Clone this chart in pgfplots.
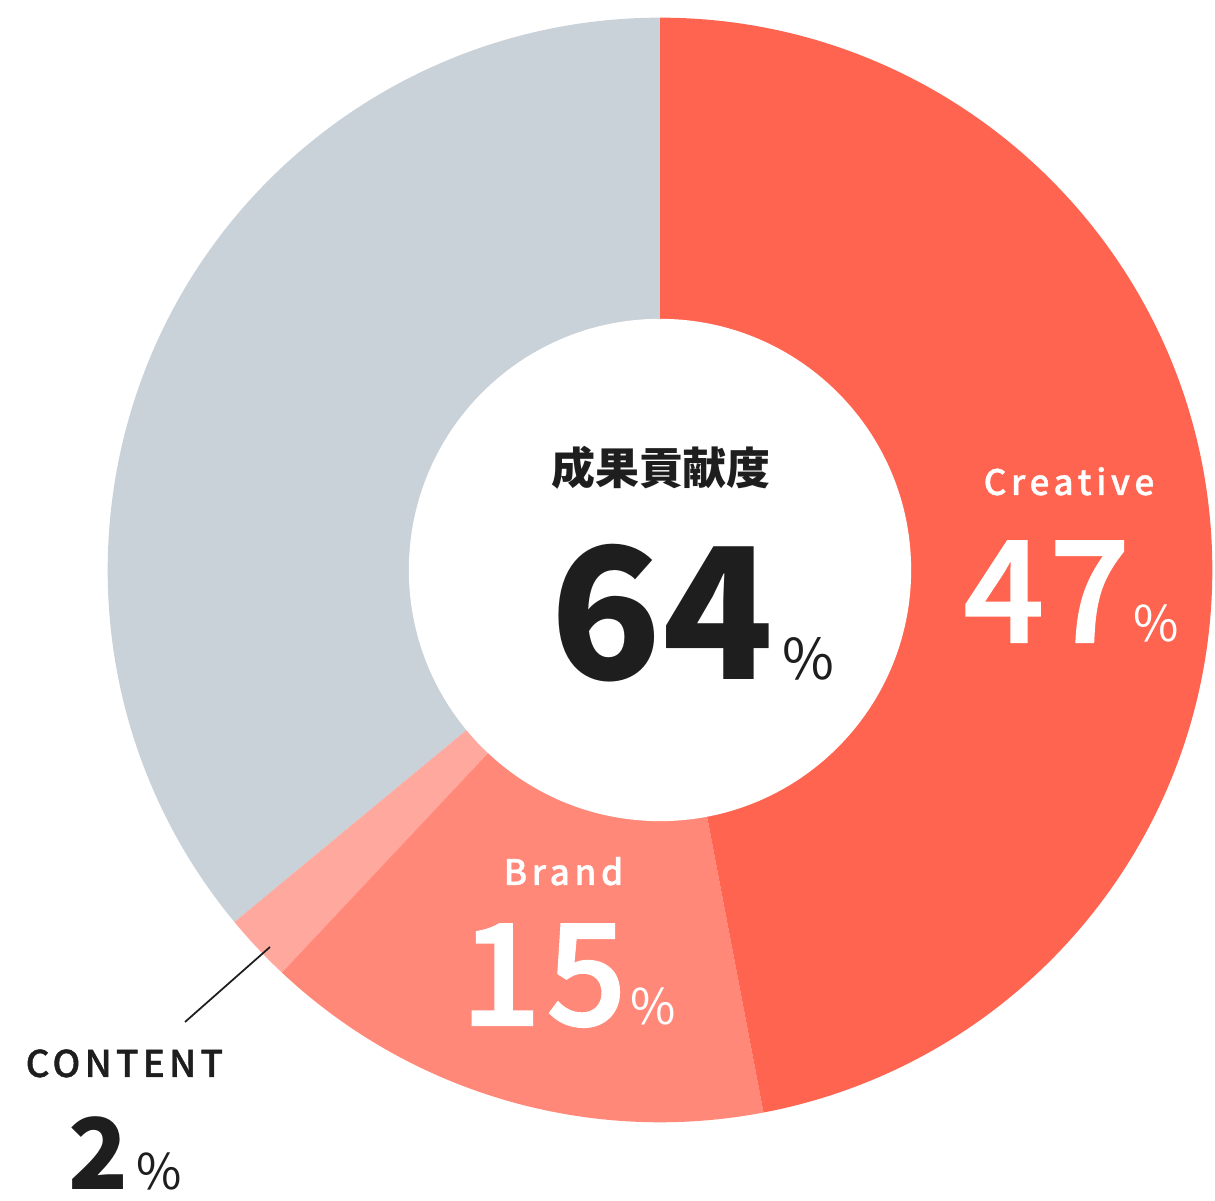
\documentclass[border=0pt]{standalone}
\usepackage{pgfplots}
\pgfplotsset{compat=1.18}
\usepackage{pgfplotstable}
\usepackage{fontspec}
\setmainfont{Noto Sans CJK JP}
\newfontfamily\medfont{Noto Sans CJK JP Medium}[RawFeature={embolden=1.6}]
\newfontfamily\medspaced{Noto Sans CJK JP Medium}[LetterSpace=13,RawFeature={embolden=1}]
\newfontfamily\medspacedb{Noto Sans CJK JP Medium}[LetterSpace=11.5,RawFeature={embolden=1}]
\definecolor{cCreative}{RGB}{255,100,80}
\definecolor{cBrand}{RGB}{255,136,120}
\definecolor{cContent}{RGB}{255,168,158}
\definecolor{cOther}{RGB}{201,209,217}
\definecolor{cText}{RGB}{30,30,30}

\pgfplotstableread{
label value
Creative 47
Brand 15
Content 2
Other 36
}\donutdata

\newcommand\slice[3]{%
  \fill[#3] (axis cs:660,631) -- ++(#1:5.52cm) arc[start angle=#1, end angle=#2, radius=5.52cm] -- cycle;}

\begin{document}
\begin{tikzpicture}
\pgfplotstablegetelem{0}{value}\of\donutdata \let\vA\pgfplotsretval
\pgfplotstablegetelem{1}{value}\of\donutdata \let\vB\pgfplotsretval
\pgfplotstablegetelem{2}{value}\of\donutdata \let\vC\pgfplotsretval
\pgfplotstablegetelem{3}{value}\of\donutdata \let\vD\pgfplotsretval
\pgfmathsetmacro\aA{90}
\pgfmathsetmacro\aB{\aA-3.6*\vA}
\pgfmathsetmacro\aC{\aB-3.6*\vB}
\pgfmathsetmacro\aD{\aC-3.6*\vC}
\pgfmathsetmacro\aE{\aD-3.6*\vD}
\begin{axis}[
  x=0.01cm, y=0.01cm,
  xmin=0, xmax=1215, ymin=0, ymax=1201,
  hide axis, clip=false,
]
\path (axis cs:0,0) rectangle (axis cs:1215,1201);
\slice{\aD}{\aE}{cOther}
\slice{\aC}{\aD}{cContent}
\slice{\aB}{\aC}{cBrand}
\slice{\aA}{\aB}{cCreative}
\fill[white] (axis cs:660,631) circle[radius=2.51cm];
% center labels
\node[anchor=base, text=cText, font=\bfseries\fontsize{12.5}{14}\selectfont, inner sep=0pt] at (axis cs:661,716) {成果貢献度};
\node[anchor=base west, text=cText, inner sep=0pt] at (axis cs:550,521) {\fontsize{52}{56}\selectfont\bfseries 64\fontsize{16}{18}\selectfont\mdseries\,\%};
% Creative
\node[anchor=base west, text=white, inner sep=0pt, font=\medspaced\fontsize{10}{11}\selectfont] at (axis cs:983,706) {Creative};
\node[anchor=base west, text=white, inner sep=0pt] at (axis cs:963,559) {\medfont\fontsize{40}{44}\selectfont 4\kern0.04em7\fontsize{14}{16}\selectfont\normalfont\hspace{0.08em}\%};
% Brand
\node[anchor=base west, text=white, inner sep=0pt, font=\medspaced\fontsize{10}{11}\selectfont] at (axis cs:503,316) {Brand};
\node[anchor=base west, text=white, inner sep=0pt] at (axis cs:460,176) {\medfont\fontsize{40}{44}\selectfont 1\kern0.04em5\fontsize{14}{16}\selectfont\normalfont\hspace{0.08em}\%};
% Content
\draw[cText, line width=0.5pt] (axis cs:185,179) -- (axis cs:270,254);
\node[anchor=base west, text=cText, inner sep=0pt, font=\medspacedb\fontsize{10.5}{12}\selectfont] at (axis cs:25,124) {CONTENT};
\node[anchor=base west, text=cText, inner sep=0pt] at (axis cs:68,11) {\fontsize{28}{30}\selectfont\bfseries 2\fontsize{14}{16}\selectfont\mdseries\,\%};
\end{axis}
\end{tikzpicture}
\end{document}
